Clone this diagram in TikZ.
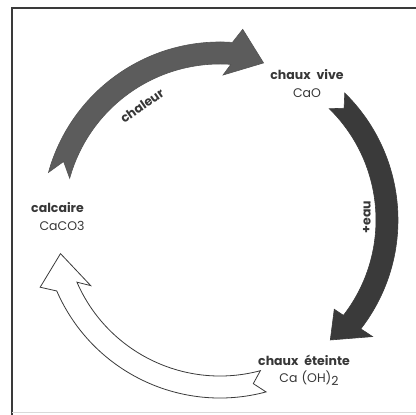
\documentclass[tikz,border=0pt]{standalone}
\usepackage{fontspec}
\setmainfont{Poppins}
\usepackage{xcolor}
\definecolor{gris}{RGB}{92,92,92}
\definecolor{grisfonce}{RGB}{58,58,58}
\definecolor{texte}{RGB}{55,55,55}

% fleche courbe : queue, encoche, base, pointe ext., pointe int., bout
\newcommand{\flecheanneau}[7]{%
  \draw[#7] (#1:\Rext) arc[start angle=#1, end angle=#3, radius=\Rext]
    -- (#4:192) -- (#6:163) -- (#5:145) -- (#3:\Rint)
    arc[start angle=#3, end angle=#1, radius=\Rint]
    -- (#2:\Rmil) -- cycle;}

\begin{document}
\begin{tikzpicture}[x=1pt,y=1pt,
    etiquette/.style={font=\fontsize{12.5}{14}\selectfont\bfseries, text=texte, inner sep=0pt},
    formule/.style={font=\fontsize{12.5}{14}\selectfont, text=texte, inner sep=0pt}]
      \useasboundingbox (0,0) rectangle (416,415);
      \def\Rext{178}
      \def\Rint{156}
      \def\Rmil{167}

      % Cadre
      \draw[line width=1.4pt, grisfonce] (12,0) -- (12,407) -- (416,407);
      \draw[line width=1pt, black!15] (12,2) -- (416,2);

      \coordinate (O) at (220,195);

      % Fleches
      \begin{scope}[shift={(O)}]
        \flecheanneau{164.5}{159.5}{86}{83.2}{88.8}{74.5}{fill=gris, draw=gris!90!black, line width=0.6pt}
        \flecheanneau{45.5}{42}{-37.7}{-37.4}{-38}{-47.4}{fill=grisfonce, draw=grisfonce, line width=0.6pt}
        \flecheanneau{285}{281.5}{203.5}{200.5}{206.9}{191.9}{fill=white, draw=grisfonce, line width=0.8pt}
      \end{scope}

      % Produits
      \node[etiquette] (vive) at (307,340) {chaux\hspace{6pt}vive};
      \node[formule] (cao) at (307,322) {CaO};
      \node[etiquette] (calcaire) at (57.5,207) {calcaire};
      \node[formule] (caco) at (62,189) {CaCO3};
      \node[etiquette] (eteinte) at (304,55) {chaux\hspace{6pt}éteinte};
      \node[formule] (caoh) at (309,37) {Ca\hspace{4pt}(OH)\raisebox{-3pt}{2}};

      % Reactions
      \node[etiquette, rotate=35] (chaleur) at (142,309) {chaleur};
      \node[etiquette, rotate=90] (eau) at (367,198) {+eau};
\end{tikzpicture}
\end{document}
